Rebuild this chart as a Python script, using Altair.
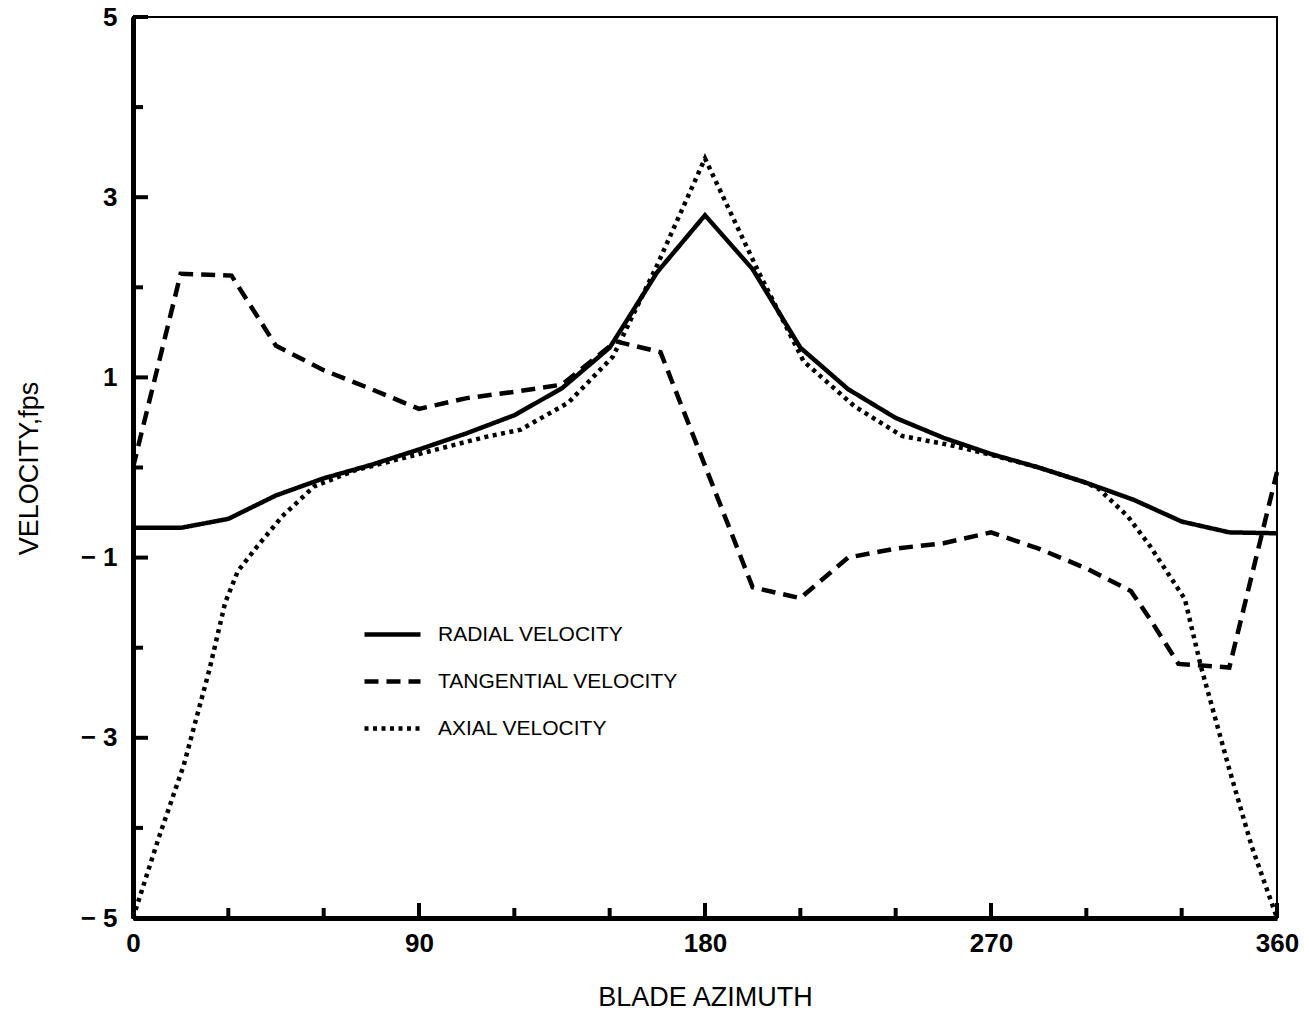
import altair as alt
import pandas as pd

# Velocity components against blade azimuth (deg) -> velocity (fps)
radial_az = [0, 15, 30, 45, 60, 75, 90, 105, 120, 135, 150, 165, 180, 195, 210,
             225, 240, 255, 270, 285, 300, 315, 330, 345, 360]
radial_v = [-0.67, -0.67, -0.57, -0.31, -0.12, 0.03, 0.2, 0.38, 0.58, 0.88, 1.33,
            2.17, 2.8, 2.2, 1.33, 0.87, 0.55, 0.33, 0.15, 0.0, -0.17, -0.36, -0.6,
            -0.72, -0.73]

tangential_az = [0, 15, 31, 45, 60, 75, 90, 105, 120, 135, 152, 166, 195, 210,
                 225, 240, 255, 270, 285, 300, 314, 320, 329, 345, 360]
tangential_v = [0.0, 2.15, 2.13, 1.35, 1.08, 0.87, 0.65, 0.77, 0.84, 0.92, 1.4,
                1.28, -1.33, -1.45, -1.0, -0.9, -0.84, -0.72, -0.9, -1.12, -1.37,
                -1.68, -2.18, -2.22, -0.05]

axial_az = [0, 8, 16, 24, 29, 33, 39, 47, 57, 70, 90, 111, 122, 137, 151, 165,
            180, 197, 211, 227, 242, 257, 270, 285, 300, 304, 313, 320, 331, 336,
            345, 352, 360]
axial_v = [-5.0, -4.12, -3.3, -2.25, -1.5, -1.15, -0.88, -0.54, -0.21, -0.03,
           0.15, 0.34, 0.42, 0.72, 1.23, 2.25, 3.43, 2.16, 1.18, 0.68, 0.35, 0.25,
           0.14, 0.0, -0.17, -0.24, -0.54, -0.87, -1.46, -2.2, -3.35, -4.2, -5.0]

series_names = ["RADIAL VELOCITY", "TANGENTIAL VELOCITY", "AXIAL VELOCITY"]
series_dashes = [[1, 0], [14, 8], [4, 4.5]]

# Axis tick marks (drawn inward)
x_major_ticks = [0, 90, 180, 270, 360]
x_minor_ticks = [30, 60, 120, 150, 210, 240, 300, 330]
y_major_ticks = [-5, -3, -1, 1, 3, 5]
y_minor_ticks = [-4, -2, 0, 2, 4]

rows = []
for name, az, v in [(series_names[0], radial_az, radial_v),
                    (series_names[1], tangential_az, tangential_v),
                    (series_names[2], axial_az, axial_v)]:
    for a, val in zip(az, v):
        rows.append({"azimuth": a, "velocity": val, "series": name})
lines_df = pd.DataFrame(rows)

FONT = "Liberation Sans"

x_scale = alt.Scale(domain=[0, 360], nice=False, zero=False)
y_scale = alt.Scale(domain=[-5, 5], nice=False, zero=False)

x_axis = alt.Axis(values=x_major_ticks, format="d", ticks=False, grid=False,
                  domainWidth=5, domainColor="black", labelFont=FONT,
                  labelFontSize=26, labelFontWeight="bold", labelColor="black",
                  labelPadding=12, labelFlush=False,
                  title="BLADE AZIMUTH", titleFont=FONT, titleFontSize=27,
                  titleFontWeight="normal", titleColor="black", titleX=572,
                  titleY=79, titleBaseline="middle", titleAnchor="middle")
y_axis = alt.Axis(values=y_major_ticks, format="d", ticks=False, grid=False,
                  domainWidth=5, domainColor="black", labelFont=FONT,
                  labelFontSize=26, labelFontWeight="bold", labelColor="black",
                  labelPadding=16, labelFlush=False, labelBaseline="middle",
                  labelExpr="datum.value < 0 ? '\u2212 ' + abs(datum.value) : datum.label",
                  title="VELOCITY,fps", titleFont=FONT, titleFontSize=27,
                  titleFontWeight="normal", titleColor="black", titleX=-104,
                  titleY=451, titleAngle=-90, titleAlign="center",
                  titleBaseline="middle")

lines = alt.Chart(lines_df).mark_line(color="black", strokeWidth=4.5).encode(
    x=alt.X("azimuth:Q", scale=x_scale, axis=x_axis),
    y=alt.Y("velocity:Q", scale=y_scale, axis=y_axis),
    strokeDash=alt.StrokeDash(
        "series:N",
        scale=alt.Scale(domain=series_names, range=series_dashes),
        sort=series_names,
        legend=alt.Legend(title=None, orient="none", legendX=229, legendY=607,
                          symbolType="stroke", symbolSize=3136,
                          symbolStrokeWidth=4.5, symbolStrokeColor="black",
                          clipHeight=21, labelFont=FONT, labelFontSize=21,
                          labelColor="black", labelLimit=500, labelOffset=15,
                          rowPadding=25, padding=0),
    ),
    order=alt.Order("azimuth:Q"),
)

# Inward tick marks on the bottom axis
xt_major = pd.DataFrame({"t": x_major_ticks, "y0": -5.0, "y1": -5.0 + 15 / 90.1})
xt_minor = pd.DataFrame({"t": x_minor_ticks, "y0": -5.0, "y1": -5.0 + 10 / 90.1})
xticks = alt.Chart(pd.concat([xt_major, xt_minor])).mark_rule(
    color="black", strokeWidth=4).encode(
    x=alt.X("t:Q", scale=x_scale),
    y=alt.Y("y0:Q", scale=y_scale),
    y2="y1:Q",
)

# Inward tick marks on the left axis
yt_major = pd.DataFrame({"t": y_major_ticks, "x0": 0.0, "x1": 15 / 3.178})
yt_minor = pd.DataFrame({"t": y_minor_ticks, "x0": 0.0, "x1": 10 / 3.178})
yticks = alt.Chart(pd.concat([yt_major, yt_minor])).mark_rule(
    color="black", strokeWidth=4).encode(
    y=alt.Y("t:Q", scale=y_scale),
    x=alt.X("x0:Q", scale=x_scale),
    x2="x1:Q",
)

chart = alt.layer(xticks, yticks, lines).properties(
    width=1144,
    height=901,
    autosize=alt.AutoSizeParams(type="none"),
    padding={"left": 133, "top": 17, "right": 32, "bottom": 100},
    background="white",
).configure_view(
    stroke="black",
    strokeWidth=2,
)

chart.save("out.html", embed_options={"renderer": "svg", "actions": False})
